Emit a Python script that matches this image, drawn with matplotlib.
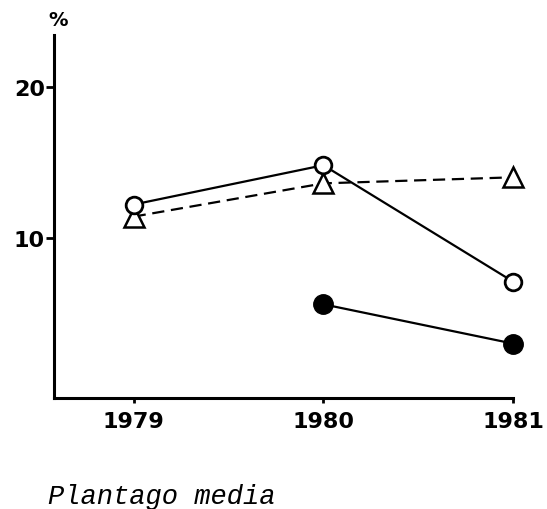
import matplotlib.pyplot as plt

# data
years = [1979, 1980, 1981]
open_circ = [12.2, 14.8, 7.1]
triangles = [11.4, 13.6, 14.0]
filled_years = [1980, 1981]
filled_circ = [5.6, 3.0]

ytick_vals = [10, 20]

fig = plt.figure(figsize=(5.47, 5.10), dpi=100)
ax = fig.add_axes([0.0987, 0.2176, 0.8393, 0.7114])

ax.plot(years, triangles, color="black", lw=1.6, ls=(0, (5.5, 3)),
        marker="^", ms=14, mfc="white", mec="black", mew=1.8, zorder=2,
        clip_on=False)
ax.plot(years, open_circ, color="black", lw=1.6,
        marker="o", ms=12, mfc="white", mec="black", mew=2, zorder=3,
        clip_on=False)
ax.plot(filled_years, filled_circ, color="black", lw=1.6,
        marker="o", ms=14, mfc="black", mec="black", zorder=3,
        clip_on=False)

ax.set_xlim(1978.58, 1981)
ax.set_ylim(-0.6, 23.4)

for s in ["top", "right"]:
    ax.spines[s].set_visible(False)
ax.spines["left"].set_linewidth(2.2)
ax.spines["bottom"].set_linewidth(2.2)

ax.set_xticks(years)
ax.set_xticklabels([str(y) for y in years])
ax.set_yticks(ytick_vals)
ax.tick_params(axis="x", direction="out", length=3.5, width=2, pad=6,
               labelsize=16)
ax.tick_params(axis="y", direction="out", length=5.5, width=2, pad=1,
               labelsize=16)
for lab in ax.get_xticklabels() + ax.get_yticklabels():
    lab.set_fontweight("bold")
    lab.set_family("DejaVu Sans")

fig.text(0.106, 0.96, "%", ha="center", va="center", fontsize=14,
         fontweight="bold")
fig.text(0.088, 0.012, "Plantago media", ha="left", va="baseline",
         fontsize=19.5, family="Liberation Mono", style="italic")

fig.savefig("out.png", dpi=100)
